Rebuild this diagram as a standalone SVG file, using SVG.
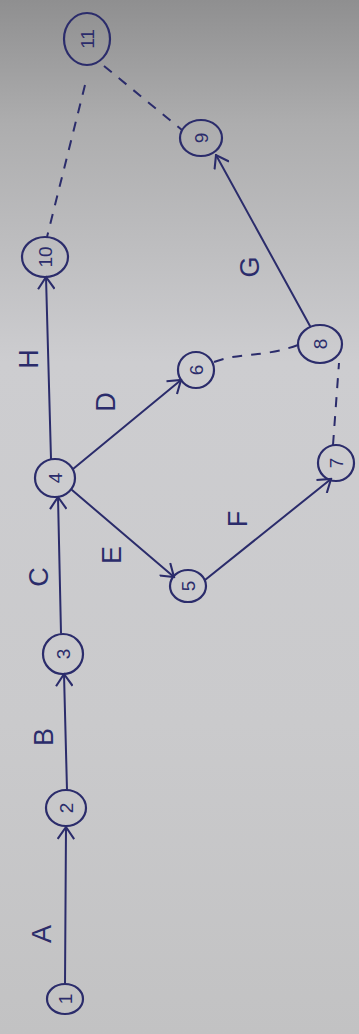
<svg xmlns="http://www.w3.org/2000/svg" width="359" height="1034" viewBox="0 0 359 1034">
<defs>
<linearGradient id="paper" x1="0" y1="0" x2="0" y2="1">
<stop offset="0" stop-color="#8f8f90"/>
<stop offset="0.12" stop-color="#adadae"/>
<stop offset="0.35" stop-color="#cdcdd0"/>
<stop offset="0.7" stop-color="#cacacc"/>
<stop offset="1" stop-color="#c2c2c3"/>
</linearGradient>
<marker id="arr" viewBox="0 0 12 12" refX="11" refY="6" markerWidth="18" markerHeight="18" markerUnits="userSpaceOnUse" orient="auto">
<path d="M3,0.5 L11,6 L3,11.5" fill="none" stroke="#2b2c6b" stroke-width="1.4"/>
</marker>
<style>
.ink{fill:none;stroke:#2b2c6b;stroke-width:2;stroke-linecap:round}
.dash{fill:none;stroke:#2b2c6b;stroke-width:2;stroke-dasharray:10 9}
.node{fill:none;stroke:#2b2c6b;stroke-width:2.2}
.num{font-family:"Liberation Sans",Arial,sans-serif;font-size:19px;fill:#2b2c6b;text-anchor:middle;dominant-baseline:central}
.lbl{font-family:"Liberation Sans",Arial,sans-serif;font-size:27px;fill:#2b2c6b;text-anchor:middle;dominant-baseline:central}
</style>
</defs>
<rect width="359" height="1034" fill="url(#paper)"/>
<g id="connectors">
<line class="ink" x1="65" y1="984" x2="66" y2="827" marker-end="url(#arr)"/>
<line class="ink" x1="67" y1="790" x2="64" y2="674" marker-end="url(#arr)"/>
<line class="ink" x1="61" y1="633" x2="58" y2="497" marker-end="url(#arr)"/>
<line class="ink" x1="51" y1="459" x2="46" y2="277" marker-end="url(#arr)"/>
<line class="ink" x1="73" y1="469" x2="181" y2="380" marker-end="url(#arr)"/>
<line class="ink" x1="72" y1="490" x2="174" y2="577" marker-end="url(#arr)"/>
<line class="ink" x1="205" y1="580" x2="331" y2="479" marker-end="url(#arr)"/>
<line class="ink" x1="310" y1="326" x2="216" y2="155" marker-end="url(#arr)"/>
<path class="dash" d="M214,362 C240,352 262,358 298,345"/>
<line class="dash" x1="333" y1="445" x2="339" y2="363"/>
<line class="dash" x1="104" y1="66" x2="182" y2="130"/>
<line class="dash" x1="85" y1="85" x2="47" y2="237"/>
<text class="lbl" transform="translate(42,934) rotate(-90)">A</text>
<text class="lbl" transform="translate(44,737) rotate(-90)">B</text>
<text class="lbl" transform="translate(39,577) rotate(-90)">C</text>
<text class="lbl" transform="translate(106,402) rotate(-90)">D</text>
<text class="lbl" transform="translate(112,555) rotate(-90)">E</text>
<text class="lbl" transform="translate(238,519) rotate(-90)">F</text>
<text class="lbl" transform="translate(250,267) rotate(-90)">G</text>
<text class="lbl" transform="translate(29,359) rotate(-90)">H</text>
</g>
<g id="n1"><ellipse class="node" cx="65" cy="999" rx="18" ry="15"/><text class="num" transform="translate(65,999) rotate(-90)">1</text></g>
<g id="n2"><ellipse class="node" cx="66" cy="808" rx="20" ry="18"/><text class="num" transform="translate(66,808) rotate(-90)">2</text></g>
<g id="n3"><ellipse class="node" cx="63" cy="654" rx="20" ry="20"/><text class="num" transform="translate(63,654) rotate(-90)">3</text></g>
<g id="n4"><ellipse class="node" cx="55" cy="478" rx="20" ry="19"/><text class="num" transform="translate(55,478) rotate(-90)">4</text></g>
<g id="n5"><ellipse class="node" cx="188" cy="586" rx="18" ry="16"/><text class="num" transform="translate(188,586) rotate(-90)">5</text></g>
<g id="n6"><ellipse class="node" cx="196" cy="370" rx="18" ry="18"/><text class="num" transform="translate(196,370) rotate(-90)">6</text></g>
<g id="n7"><ellipse class="node" cx="336" cy="463" rx="18" ry="18"/><text class="num" transform="translate(336,463) rotate(-90)">7</text></g>
<g id="n8"><ellipse class="node" cx="320" cy="344" rx="22" ry="19"/><text class="num" transform="translate(320,344) rotate(-90)">8</text></g>
<g id="n9"><ellipse class="node" cx="201" cy="138" rx="21" ry="18"/><text class="num" transform="translate(201,138) rotate(-90)">9</text></g>
<g id="n10"><ellipse class="node" cx="45" cy="257" rx="23" ry="20"/><text class="num" transform="translate(45,257) rotate(-90)">10</text></g>
<g id="n11"><ellipse class="node" cx="87" cy="39" rx="23" ry="26"/><text class="num" transform="translate(87,39) rotate(-90)">11</text></g>
</svg>
